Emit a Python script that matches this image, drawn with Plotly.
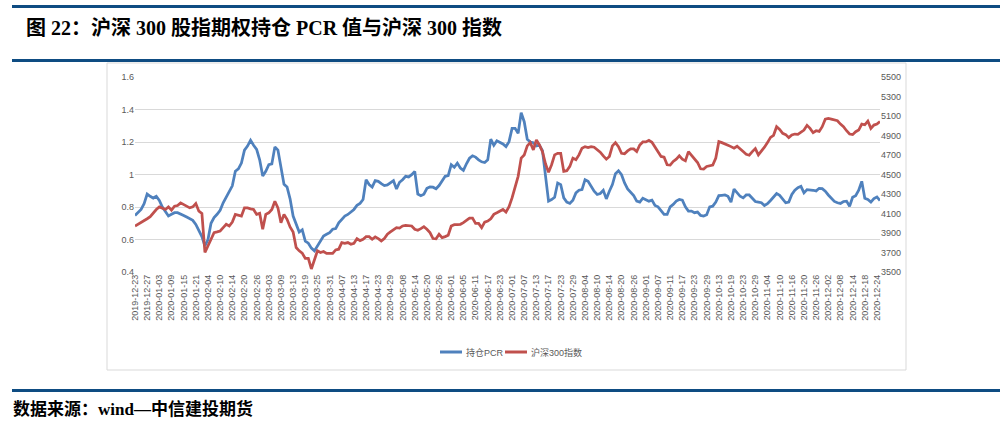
import datetime as dt
import plotly.graph_objects as go

W, H = 1004, 423

# ---------------- data ----------------
start_date = dt.date(2019, 12, 23)
end_date = dt.date(2020, 12, 25)
holidays = ["2020-01-01", "2020-01-24", "2020-01-27", "2020-01-28", "2020-01-29",
            "2020-01-30", "2020-01-31", "2020-04-06", "2020-05-01", "2020-05-04",
            "2020-05-05", "2020-06-25", "2020-06-26", "2020-10-01", "2020-10-02",
            "2020-10-05", "2020-10-06", "2020-10-07", "2020-10-08"]

dates = []
d = start_date
while d <= end_date:
    s = d.isoformat()
    if d.weekday() < 5 and s not in holidays:
        dates.append(s)
    d += dt.timedelta(days=1)

pcr = [
    0.748, 0.765, 0.785, 0.82, 0.88, 0.866, 0.855, 0.866, 0.84, 0.80,
    0.77, 0.745, 0.755, 0.765, 0.765, 0.758, 0.748, 0.738, 0.73, 0.718,
    0.693, 0.652, 0.618, 0.56, 0.60, 0.70, 0.735, 0.755, 0.78, 0.826,
    0.862, 0.897, 0.93, 1.02, 1.035, 1.07, 1.15, 1.175, 1.21, 1.18,
    1.155, 1.09, 0.99, 1.02, 1.06, 1.065, 1.17, 1.15, 1.05, 0.94,
    0.923, 0.85, 0.744, 0.70, 0.646, 0.66, 0.59, 0.577, 0.547, 0.53,
    0.56, 0.59, 0.622, 0.632, 0.642, 0.663, 0.667, 0.703, 0.724, 0.744,
    0.754, 0.769, 0.785, 0.81, 0.822, 0.846, 0.968, 0.938, 0.923, 0.962,
    0.958, 0.944, 0.932, 0.936, 0.948, 0.962, 0.911, 0.952, 0.968, 0.989,
    0.985, 0.999, 1.019, 0.88, 0.87, 0.879, 0.915, 0.923, 0.922, 0.912,
    0.932, 0.964, 0.989, 0.993, 1.06, 1.044, 1.07, 1.04, 1.025, 1.066,
    1.10, 1.115, 1.107, 1.09, 1.078, 1.074, 1.09, 1.217, 1.18, 1.208,
    1.20, 1.188, 1.172, 1.202, 1.284, 1.284, 1.253, 1.38, 1.325, 1.217,
    1.20, 1.196, 1.176, 1.18, 1.147, 0.978, 0.836, 0.846, 0.86, 0.948,
    0.938, 0.856, 0.83, 0.822, 0.842, 0.887, 0.903, 0.907, 0.968, 0.958,
    0.923, 0.897, 0.877, 0.883, 0.903, 0.85, 0.897, 0.938, 1.005, 1.023,
    0.999, 0.948, 0.911, 0.891, 0.87, 0.836, 0.83, 0.854, 0.846, 0.836,
    0.842, 0.809, 0.801, 0.775, 0.754, 0.754, 0.801, 0.816, 0.836, 0.846,
    0.842, 0.801, 0.775, 0.775, 0.765, 0.769, 0.748, 0.744, 0.752, 0.801,
    0.805, 0.83, 0.87, 0.872, 0.874, 0.866, 0.83, 0.91, 0.89, 0.866,
    0.856, 0.874, 0.874, 0.854, 0.834, 0.83, 0.826, 0.809, 0.82, 0.84,
    0.86, 0.883, 0.872, 0.846, 0.826, 0.83, 0.877, 0.903, 0.919, 0.927,
    0.887, 0.907, 0.907, 0.903, 0.899, 0.915, 0.913, 0.897, 0.874, 0.856,
    0.834, 0.826, 0.822, 0.834, 0.836, 0.805, 0.86, 0.87, 0.903, 0.958,
    0.854, 0.846, 0.83, 0.852, 0.862, 0.84,
]

hs300 = [
    3972, 3989, 4006, 4023, 4046, 4067, 4107, 4141, 4168, 4158,
    4141, 4168, 4135, 4175, 4182, 4209, 4192, 4182, 4158, 4168,
    4203, 4124, 4100, 3700, 3768, 3843, 3904, 3911, 3921, 3955,
    3989, 3972, 4012, 4091, 4080, 4074, 4158, 4158, 4148, 4141,
    4091, 4101, 3938, 4091, 4107, 4141, 4226, 4158, 4006, 4091,
    4040, 3962, 3911, 3751, 3717, 3693, 3639, 3639, 3531, 3626,
    3717, 3700, 3710, 3690, 3693, 3690, 3727, 3734, 3802, 3795,
    3802, 3785, 3795, 3843, 3822, 3836, 3863, 3863, 3836, 3860,
    3843, 3819, 3843, 3887, 3911, 3938, 3955, 3951, 3972, 3979,
    3979, 3972, 3938, 3928, 3945, 3965, 3938, 3904, 3843, 3840,
    3887, 3853, 3863, 3877, 3972, 3985, 3985, 3989, 4006, 4029,
    4053, 4053, 3999, 3999, 3955, 4012, 4023, 4046, 4091, 4107,
    4124, 4141, 4114, 4169, 4260, 4372, 4481, 4668, 4701, 4793,
    4827, 4752, 4854, 4803, 4735, 4610, 4522, 4600, 4701, 4718,
    4718, 4532, 4539, 4583, 4668, 4651, 4701, 4769, 4786, 4776,
    4786, 4780, 4759, 4729, 4691, 4657, 4685, 4793, 4827, 4786,
    4718, 4712, 4742, 4763, 4763, 4735, 4803, 4834, 4834, 4851,
    4830, 4780, 4735, 4685, 4678, 4600, 4596, 4634, 4657, 4691,
    4657, 4640, 4735, 4698, 4657, 4623, 4559, 4556, 4583, 4589,
    4596, 4668, 4837, 4827, 4810, 4800, 4786, 4770, 4790, 4759,
    4735, 4708, 4698, 4735, 4766, 4701, 4735, 4780, 4827, 4881,
    4902, 4990, 4963, 4922, 4909, 4878, 4905, 4915, 4912, 4932,
    4956, 5004, 4973, 4929, 4949, 4942, 4990, 5068, 5075, 5068,
    5061, 5051, 5017, 4990, 4949, 4915, 4909, 4939, 4956, 5017,
    5010, 5048, 4973, 5007, 5017, 5044,
]

n = min(len(dates), len(pcr), len(hs300))
dates, pcr, hs300 = dates[:n], pcr[:n], hs300[:n]
tick_labels = dates[::4]

series_names = ["持仓PCR", "沪深300指数"]
left_ticks = [0.4, 0.6, 0.8, 1.0, 1.2, 1.4, 1.6]
left_ticktext = ["0.4", "0.6", "0.8", "1", "1.2", "1.4", "1.6"]
right_ticks = list(range(3500, 5501, 200))

# ---------------- layout geometry (pixels) ----------------
L, R, T, B = 135, 880, 77, 272
def px(x):
    return (x - L) / (R - L)
def py(y):
    return (B - y) / (B - T)

BLUE = "#4F81BD"
RED = "#C0504D"
DARK = "#0E4C82"
GRAY = "#595959"
CJK = "Liberation Sans, Noto Sans CJK SC, sans-serif"
TITLE_FONT = "Liberation Serif, Noto Sans CJK SC, serif"
colors = [BLUE, RED]

fig = go.Figure()
fig.add_trace(go.Scatter(x=dates, y=pcr, name=series_names[0], mode="lines",
                         line=dict(color=BLUE, width=2.75), yaxis="y"))
fig.add_trace(go.Scatter(x=dates, y=hs300, name=series_names[1], mode="lines",
                         line=dict(color=RED, width=2.75), yaxis="y2"))

fig.update_layout(
    width=W, height=H,
    margin=dict(l=L, r=W - R, t=T, b=H - B, pad=0),
    paper_bgcolor="white", plot_bgcolor="white",
    font=dict(family=CJK, size=9, color=GRAY),
    showlegend=False,
    xaxis=dict(type="category", range=[0, n - 1], tickmode="array",
               tickvals=tick_labels, ticktext=tick_labels, tickangle=-90,
               showgrid=False, zeroline=False, showline=False, ticks="",
               tickfont=dict(size=9, color=GRAY), automargin=False),
    yaxis=dict(range=[0.4, 1.6], tickmode="array", tickvals=left_ticks,
               ticktext=left_ticktext, showgrid=True, gridcolor="#D9D9D9",
               gridwidth=1, zeroline=False, showline=False, ticks="",
               tickfont=dict(size=9, color=GRAY), automargin=False),
    yaxis2=dict(range=[3500, 5500], tickmode="array", tickvals=right_ticks,
                overlaying="y", side="right", showgrid=False, zeroline=False,
                showline=False, ticks="", tickfont=dict(size=9, color=GRAY),
                automargin=False),
)

shapes = []
# frame of the chart box
shapes.append(dict(type="rect", xref="paper", yref="paper",
                   x0=px(107), x1=px(906), y0=py(63), y1=py(370),
                   line=dict(color="#D9D9D9", width=1), layer="below"))
# horizontal rules
for yy in [6.5, 60.5, 390.5]:
    shapes.append(dict(type="line", xref="paper", yref="paper",
                       x0=px(12), x1=px(1000), y0=py(yy), y1=py(yy),
                       line=dict(color=DARK, width=3)))
# legend (manual, to match the short Excel-style keys)
legend_keys = [(440, 462), (505, 527)]
for (k0, k1), c in zip(legend_keys, colors):
    shapes.append(dict(type="line", xref="paper", yref="paper",
                       x0=px(k0), x1=px(k1), y0=py(352), y1=py(352),
                       line=dict(color=c, width=3)))
fig.update_layout(shapes=shapes)

for (k0, k1), name in zip(legend_keys, series_names):
    fig.add_annotation(text=name, xref="paper", yref="paper", x=px(k1 + 2), y=py(352),
                       xanchor="left", yanchor="middle", showarrow=False,
                       font=dict(family=CJK, size=9, color=GRAY))

fig.add_annotation(text="<b>图 22：沪深 300 股指期权持仓 PCR 值与沪深 300 指数</b>",
                   xref="paper", yref="paper", x=px(24), y=py(28),
                   xanchor="left", yanchor="middle", showarrow=False,
                   font=dict(family=TITLE_FONT, size=20, color="black"))
fig.add_annotation(text="<b>数据来源：wind—中信建投期货</b>",
                   xref="paper", yref="paper", x=px(11), y=py(409),
                   xanchor="left", yanchor="middle", showarrow=False,
                   font=dict(family=TITLE_FONT, size=17, color="black"))

fig.write_html("out.html", config={"displayModeBar": False},
               post_script="document.body.style.margin='0';document.body.style.overflow='hidden';")
